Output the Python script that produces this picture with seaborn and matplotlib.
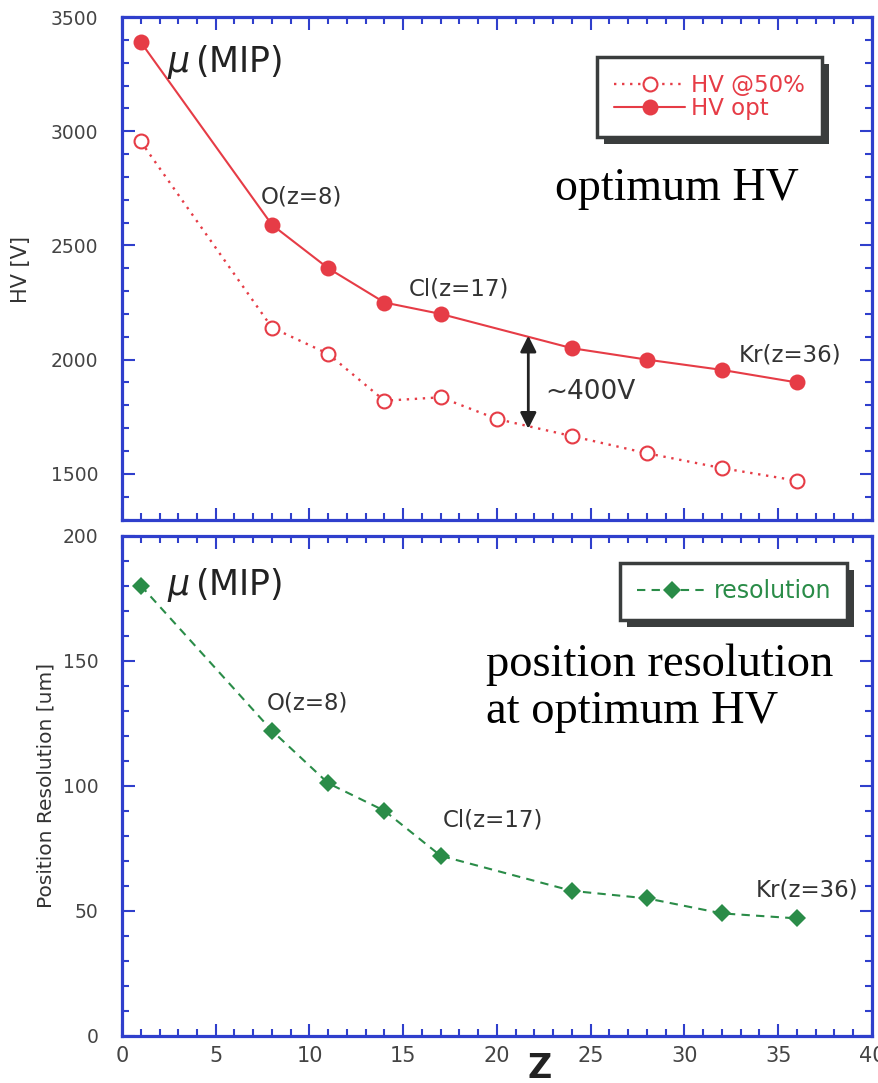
import numpy as np
import pandas as pd
import seaborn as sns
import matplotlib
matplotlib.use("Agg")
import matplotlib.pyplot as plt
import matplotlib.patheffects as pe
from matplotlib import font_manager
from matplotlib.ticker import MultipleLocator

# ---- data -------------------------------------------------------------
z_opt = [1, 8, 11, 14, 17, 24, 28, 32, 36]
hv_opt = [3390, 2590, 2400, 2250, 2200, 2050, 2000, 1955, 1900]

z_half = [1, 8, 11, 14, 17, 20, 24, 28, 32, 36]
hv_half = [2955, 2140, 2025, 1820, 1835, 1740, 1665, 1590, 1525, 1470]

z_res = [1, 8, 11, 14, 17, 24, 28, 32, 36]
resolution = [180, 122, 101, 90, 72, 58, 55, 49, 47]

hv_ticks = [1500, 2000, 2500, 3000, 3500]
res_ticks = [0, 50, 100, 150, 200]
z_ticks = [0, 5, 10, 15, 20, 25, 30, 35, 40]

# ---- style ------------------------------------------------------------
sns.set_style("white")
names = {f.name for f in font_manager.fontManager.ttflist}
narrow = "Liberation Sans Narrow" if "Liberation Sans Narrow" in names else "DejaVu Sans"
plt.rcParams["font.family"] = ["DejaVu Sans"]

RED = "#e63c46"
GREEN = "#2a8c48"
BLUE = "#2f3fcc"
TXT = "#333333"
FRAME = "#3a3d3d"

fig = plt.figure(figsize=(8.79, 10.83), dpi=100)
ax1 = fig.add_axes([0.1388, 0.5203, 0.992 - 0.1388, 0.9843 - 0.5203])
ax2 = fig.add_axes([0.1388, 0.0434, 0.992 - 0.1388, 0.5055 - 0.0434])


def style_axes(ax):
    for s in ax.spines.values():
        s.set_color(BLUE)
        s.set_linewidth(2.3)
        s.set_visible(True)
    ax.tick_params(which="both", direction="in", color=BLUE, width=1.5,
                   top=True, right=True, bottom=True, left=True)
    ax.tick_params(which="major", length=9)
    ax.tick_params(which="minor", length=5)
    ax.tick_params(axis="y", labelsize=13.5, labelcolor="#444444", pad=17)
    ax.xaxis.set_major_locator(MultipleLocator(5))
    ax.xaxis.set_minor_locator(MultipleLocator(1))
    ax.set_xlim(0, 40)


def shadowed_legend(ax, anchor, fontsize, color, handlelength, borderpad):
    leg = ax.legend(loc="upper right", bbox_to_anchor=anchor,
                    fontsize=fontsize, frameon=True, fancybox=False,
                    framealpha=1.0, facecolor="white",
                    handlelength=handlelength, handletextpad=0.25,
                    labelspacing=0.0, borderpad=borderpad, labelcolor=color)
    frame = leg.get_frame()
    frame.set_edgecolor(FRAME)
    frame.set_linewidth(2.5)
    frame.set_path_effects([
        pe.SimplePatchShadow(offset=(5, -5), shadow_rgbFace=FRAME, alpha=1.0),
        pe.Normal()])
    return leg


# ---- top panel: high voltage ------------------------------------------
sns.lineplot(x=z_half, y=hv_half, ax=ax1, color=RED, linestyle=(0, (1, 2.4)),
             linewidth=1.7, marker="o", markersize=10, markerfacecolor="white",
             markeredgecolor=RED, markeredgewidth=1.5, label="HV @50%")
sns.lineplot(x=z_opt, y=hv_opt, ax=ax1, color=RED, linestyle="-",
             linewidth=1.5, marker="o", markersize=11.5, markerfacecolor=RED,
             markeredgecolor=RED, markeredgewidth=0, label="HV opt")
style_axes(ax1)
ax1.set_ylim(1300, 3500)
ax1.set_yticks(hv_ticks)
ax1.yaxis.set_minor_locator(MultipleLocator(100))
ax1.tick_params(axis="x", labelbottom=False)
ax1.set_xlabel("")
ax1.set_ylabel("HV [V]", fontsize=15, color=TXT)
ax1.yaxis.set_label_coords(-0.122, 0.497)

shadowed_legend(ax1, (0.949, 0.943), 16.5, RED, 3.1, 0.75)

ax1.text(2.4, 3305, r"$\mu\,$(MIP)", fontsize=25, color="#222222",
         ha="left", va="center")
ax1.text(7.4, 2711, "O(z=8)", fontsize=16.5, color=TXT, ha="left", va="center")
ax1.text(15.3, 2309, "Cl(z=17)", fontsize=16.5, color=TXT, ha="left", va="center")
ax1.text(32.9, 2020, "Kr(z=36)", fontsize=16.5, color=TXT, ha="left", va="center")
ax1.text(23.1, 2746, "optimum HV", fontsize=33, family="Liberation Serif",
         color="black", ha="left", va="center")
ax1.annotate("", xy=(21.67, 2105), xytext=(21.67, 1697),
             arrowprops=dict(arrowstyle="<|-|>", color="#222222", lw=2,
                             mutation_scale=24, shrinkA=0, shrinkB=0))
ax1.text(22.6, 1858, "~400V", fontsize=19, color=TXT, ha="left", va="center")

# ---- bottom panel: position resolution --------------------------------
sns.lineplot(x=z_res, y=resolution, ax=ax2, color=GREEN, linestyle=(0, (4, 3)),
             linewidth=1.5, marker="D", markersize=9.5, markerfacecolor=GREEN,
             markeredgecolor=GREEN, markeredgewidth=0, label="resolution")
style_axes(ax2)
ax2.set_ylim(0, 200)
ax2.set_yticks(res_ticks)
ax2.yaxis.set_minor_locator(MultipleLocator(10))
ax2.set_xticks(z_ticks)
ax2.set_xticklabels([str(t) for t in z_ticks], family=narrow)
ax2.tick_params(axis="x", labelsize=15, labelcolor="#444444", pad=7)
ax2.set_ylabel("Position Resolution [um]", fontsize=14.5, color=TXT)
ax2.yaxis.set_label_coords(-0.089, 0.5)
ax2.set_xlabel("Z", fontsize=24, fontweight="heavy", color="#222222")
ax2.xaxis.set_label_coords(0.557, -0.031)

shadowed_legend(ax2, (0.983, 0.969), 17, GREEN, 3.0, 0.7)

ax2.text(2.4, 180.2, r"$\mu\,$(MIP)", fontsize=25, color="#222222",
         ha="left", va="center")
ax2.text(7.7, 133, "O(z=8)", fontsize=16.5, color=TXT, ha="left", va="center")
ax2.text(17.1, 86.3, "Cl(z=17)", fontsize=16.5, color=TXT, ha="left", va="center")
ax2.text(33.8, 58.3, "Kr(z=36)", fontsize=16.5, color=TXT, ha="left", va="center")
ax2.text(19.4, 148.3, "position resolution", fontsize=33.5,
         family="Liberation Serif", color="black", ha="left", va="center")
ax2.text(19.4, 129.5, "at optimum HV", fontsize=33.5,
         family="Liberation Serif", color="black", ha="left", va="center")

fig.savefig("out.png", dpi=100)
